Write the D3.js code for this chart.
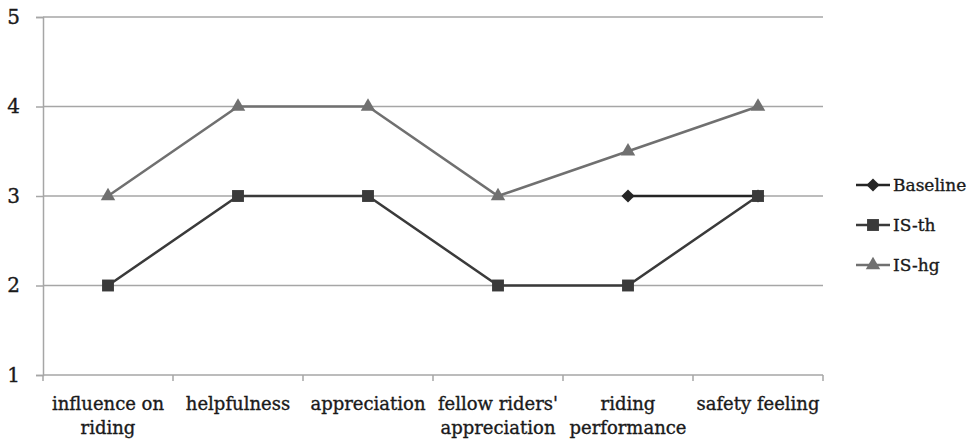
<!DOCTYPE html>
<html>
<head>
<meta charset="utf-8">
<script src="https://cdn.jsdelivr.net/npm/d3@7"></script>
<style>
  html, body { margin: 0; padding: 0; background: #fff; }
  svg { display: block; }
  text { font-family: "DejaVu Serif", "Liberation Serif", serif; fill: #1a1a1a; stroke: #1a1a1a; stroke-width: 0.35; }
</style>
</head>
<body>
<svg id="chart" width="973" height="443"></svg>
<script>
// Survey categories (label lines) and mean scores per condition
const categories = [
  ["influence on", "riding"],
  ["helpfulness"],
  ["appreciation"],
  ["fellow riders'", "appreciation"],
  ["riding", "performance"],
  ["safety feeling"]
];
const baseline = [null, null, null, null, 3, 3];
const isTh = [2, 3, 3, 2, 2, 3];
const isHg = [3, 4, 4, 3, 3.5, 4];
const yTicks = [1, 2, 3, 4, 5];
const seriesNames = ["Baseline", "IS-th", "IS-hg"];

const svg = d3.select("#chart");
const margin = { left: 43, right: 150, top: 17, bottom: 68 };
const W = 973, H = 443;
const x0 = margin.left, x1 = W - margin.right, y0 = H - margin.bottom, y1 = margin.top;

const x = d3.scaleBand().domain(d3.range(categories.length)).range([x0, x1]);
const y = d3.scaleLinear().domain([1, 5]).range([y0, y1]);

// horizontal gridlines
svg.append("g").selectAll("line").data(yTicks.filter(t => t > 1)).join("line")
  .attr("x1", x0).attr("x2", x1)
  .attr("y1", d => y(d)).attr("y2", d => y(d))
  .attr("stroke", "#a6a6a6").attr("stroke-width", 1.5);

// y axis
const yAxis = svg.append("g").attr("transform", `translate(${x0},0)`)
  .call(d3.axisLeft(y).tickValues(yTicks).tickFormat(d3.format("d")).tickSize(7).tickPadding(16));
yAxis.select(".domain").attr("stroke", "#a6a6a6").attr("stroke-width", 1.5);
yAxis.selectAll(".tick line").attr("stroke", "#a6a6a6").attr("stroke-width", 1.5);
yAxis.selectAll(".tick text").attr("font-size", 20).attr("fill", "#1a1a1a")
  .style("font-family", '"DejaVu Serif", serif');

// x axis line and boundary ticks
svg.append("line").attr("x1", x0).attr("x2", x1).attr("y1", y0).attr("y2", y0)
  .attr("stroke", "#a6a6a6").attr("stroke-width", 1.5);
const bounds = d3.range(categories.length + 1).map(i => i < categories.length ? x(i) : x1);
svg.append("g").selectAll("line").data(bounds).join("line")
  .attr("x1", d => d).attr("x2", d => d).attr("y1", y0).attr("y2", y0 + 6)
  .attr("stroke", "#a6a6a6").attr("stroke-width", 1.5);

// category labels
const cx = i => x(i) + x.bandwidth() / 2;
const lab = svg.append("g").selectAll("text").data(categories).join("text")
  .attr("x", (d, i) => cx(i)).attr("y", y0 + 35)
  .attr("text-anchor", "middle").attr("font-size", 18);
lab.selectAll("tspan").data(d => d).join("tspan")
  .attr("x", function() { return this.parentNode.getAttribute("x"); })
  .attr("dy", (d, i) => i === 0 ? 0 : 24)
  .text(d => d);

// series
const series = [
  { name: seriesNames[0], values: baseline, color: "#252525", shape: "diamond" },
  { name: seriesNames[1], values: isTh, color: "#3a3a3a", shape: "square" },
  { name: seriesNames[2], values: isHg, color: "#707070", shape: "triangle" }
];
const symbolType = { diamond: d3.symbolDiamond2, square: d3.symbolSquare2, triangle: d3.symbolTriangle2 };
const symbolSize = { diamond: 110, square: 180, triangle: 150 };

const line = d3.line().defined(d => d != null).x((d, i) => cx(i)).y(d => y(d));

// draw IS-hg first, then Baseline, then IS-th so its square covers the shared point
[series[2], series[0], series[1]].forEach(s => {
  svg.append("path").datum(s.values).attr("d", line)
    .attr("fill", "none").attr("stroke", s.color).attr("stroke-width", 2.5);
  svg.append("g").selectAll("path")
    .data(s.values.map((v, i) => ({ v, i })).filter(d => d.v != null))
    .join("path")
    .attr("transform", d => `translate(${cx(d.i)},${y(d.v)})`)
    .attr("d", d3.symbol(symbolType[s.shape], symbolSize[s.shape]))
    .attr("fill", s.color).attr("stroke", "none");
});

// legend
const lg = svg.append("g").selectAll("g").data(series).join("g")
  .attr("transform", (d, i) => `translate(856,${185 + i * 40})`);
lg.append("line").attr("x1", 0).attr("x2", 34).attr("y1", 0).attr("y2", 0)
  .attr("stroke", d => d.color).attr("stroke-width", 2.5);
lg.append("path").attr("transform", "translate(17,0)")
  .attr("d", d => d3.symbol(symbolType[d.shape], symbolSize[d.shape])())
  .attr("fill", d => d.color);
lg.append("text").attr("x", 37).attr("y", 6).attr("font-size", 17).text(d => d.name);
</script>
</body>
</html>
